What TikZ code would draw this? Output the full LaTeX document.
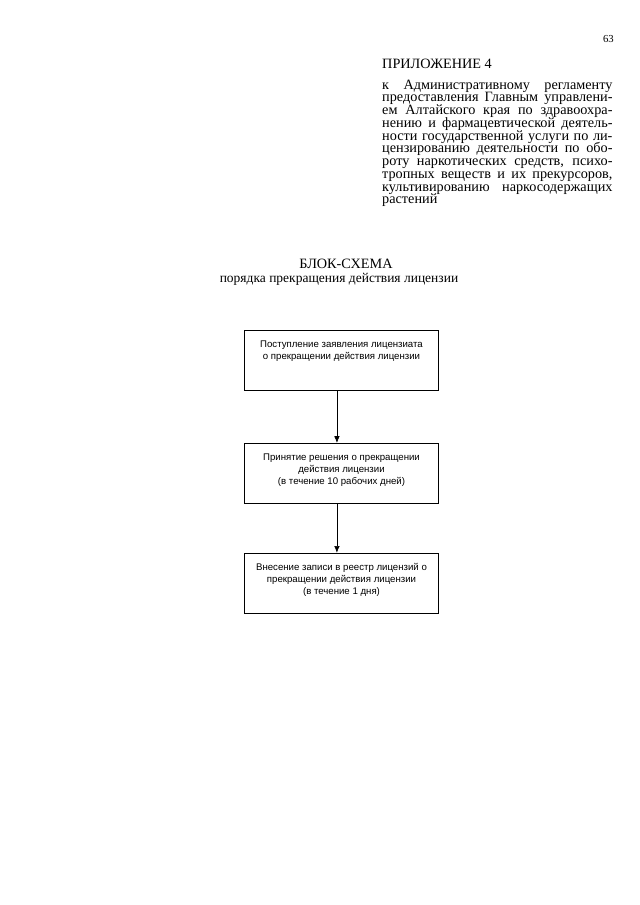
\documentclass[tikz,border=0pt]{standalone}
\usepackage{fontspec}
\setmainfont{Liberation Serif}
\newfontfamily\blokfont{Liberation Sans}
\usepackage{tikz}
\usetikzlibrary{arrows.meta,positioning}
\tikzset{
  shapka/.style={inner sep=0pt, font=\fontsize{13.3}{13.3}\selectfont},
  abzac/.style={inner sep=0pt, text width=215pt, align=justify,
                font={\fontsize{13.3}{11.9}\selectfont\hyphenpenalty=10000\lineskiplimit=-20pt}},
  blok/.style={rectangle, draw, line width=1pt, inner xsep=1.8mm, inner ysep=2.4mm,
               font=\blokfont\fontsize{9}{11}\selectfont},
  arr/.style={-{Latex[length=2.2mm,width=1.8mm]}, line width=0.6pt},
}
\newcommand\bloktext[1]{\parbox[c][14.9mm][t]{60mm}{\vspace*{1mm}\centering #1}}

\begin{document}
\begin{tikzpicture}[x=0.328125mm, y=-0.328125mm, node distance=17mm]
    \useasboundingbox (0,0) rectangle (640,905);
    \node[shapka, anchor=base east, font=\fontsize{10}{10}\selectfont] (nomer) at (614,42) {63};
    \node[shapka, anchor=base west] (pril) at (382,68) {ПРИЛОЖЕНИЕ 4};
    \node[abzac, anchor=north west] (pril-tekst) at (382,79.5)
      {к Административному регламенту\linebreak
       предоставления Главным управлени-\linebreak
       ем Алтайского края по здравоохра-\linebreak
       нению и фармацевтической деятель-\linebreak
       ности государственной услуги по ли-\linebreak
       цензированию деятельности по обо-\linebreak
       роту наркотических средств, психо-\linebreak
       тропных веществ и их прекурсоров,\linebreak
       культивированию наркосодержащих\linebreak
       растений};
    \node[shapka, anchor=base] (zag) at (346,268) {БЛОК-СХЕМА};
    \node[shapka, anchor=base, font=\fontsize{12.6}{12.6}\selectfont] (podzag) at (339,282) {порядка прекращения действия лицензии};
    \node[blok, anchor=north] (b1) at (341.5,330)
      {\bloktext{Поступление заявления лицензиата\\о прекращении действия лицензии}};
    \node[blok, below=of b1] (b2)
      {\bloktext{Принятие решения о прекращении\\действия лицензии\\(в течение 10 рабочих дней)}};
    \node[blok, below=16mm of b2] (b3)
      {\bloktext{Внесение записи в реестр лицензий о\\прекращении действия лицензии\\(в течение 1 дня)}};
    \draw[arr] ([xshift=-1.5mm]b1.south) -- ([xshift=-1.5mm]b2.north);
    \draw[arr] ([xshift=-1.5mm]b2.south) -- ([xshift=-1.5mm]b3.north);
  \end{tikzpicture}
\end{document}
